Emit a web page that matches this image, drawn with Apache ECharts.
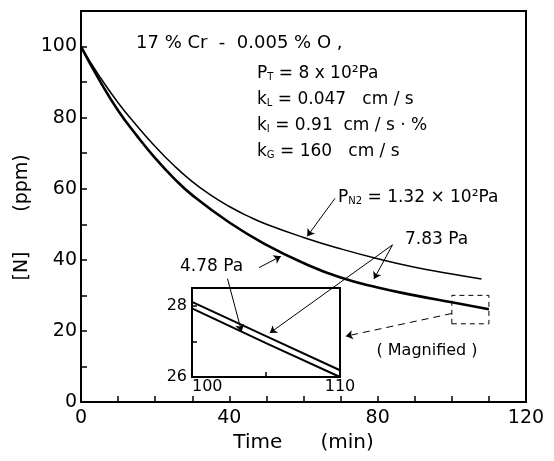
<!DOCTYPE html>
<html><head><meta charset="utf-8">
<script src="https://cdn.jsdelivr.net/npm/echarts@6/dist/echarts.min.js"></script>
<style>html,body{margin:0;padding:0;background:#fff}#c{width:554px;height:461px}</style>
</head><body><div id="c"></div>
<script>
// ---- data ----
const timeMin   = [0, 5, 10, 15, 20, 25, 30, 40, 50, 60, 70, 80, 90, 100, 110];
const nLowP     = [100, 90.5, 82, 75, 68.6, 63, 58.2, 50.5, 44.2, 39.1, 35.0, 32.2, 30.0, 28.05, 26.1]; // 7.83 Pa / 4.78 Pa
const timeHigh  = [0, 5, 10, 15, 20, 25, 30, 35, 40, 45, 50, 60, 70, 80, 90, 100, 108];
const nHighP    = [100, 91.6, 84.2, 77.8, 71.9, 66.6, 62.0, 58.2, 55.0, 52.3, 50.0, 46.3, 43.1, 40.3, 37.9, 36.0, 34.6]; // 1.32x10^2 Pa
const insetTime = [100, 105, 110];
const inset783  = [28.11, 27.15, 26.19];
const inset478  = [27.93, 26.95, 26.00];
const xMainLabels = [0, 40, 80, 120];
const yMainLabels = [0, 20, 40, 60, 80, 100];
const xInsetLabels = [100, 110];
const yInsetLabels = [26, 28];

const pairs = (xs, ys) => xs.map((x, i) => [x, ys[i]]);
const FONT = 'DejaVu Sans';
const black = '#000';

const chart = echarts.init(document.getElementById('c'), null, {renderer: 'canvas'});

const arrow = (a, b) => [
  {coord: a, symbol: 'none'},
  {coord: b, symbol: 'arrow'}
];
const subRich = {s: {fontSize: 10, fontFamily: FONT, verticalAlign: 'bottom', fill: black}};
const note = (x, y, text, size) => ({type: 'text', x: x, y: y,
  style: {text: text, fill: black, font: (size || 17) + 'px "DejaVu Sans"', verticalAlign: 'middle', rich: subRich}});

const option = {
  animation: false,
  backgroundColor: '#fff',
  grid: [
    {left: 81, top: 11, width: 445, height: 391, show: true, borderColor: black, borderWidth: 2, backgroundColor: 'transparent'},
    {left: 192, top: 288, width: 148, height: 89, show: true, borderColor: black, borderWidth: 2, backgroundColor: '#fff', z: 3}
  ],
  xAxis: [
    {gridIndex: 0, type: 'value', min: 0, max: 120, interval: 10,
     axisLine: {lineStyle: {color: black, width: 2}},
     axisTick: {inside: true, length: 6, lineStyle: {color: black, width: 1.5}},
     axisLabel: {color: black, fontSize: 19, fontFamily: FONT, margin: 7,
                 formatter: v => xMainLabels.includes(v) ? String(v) : ''},
     splitLine: {show: false},
     name: 'Time      (min)', nameLocation: 'middle', nameGap: 30,
     nameTextStyle: {color: black, fontSize: 20, fontFamily: FONT}},
    {gridIndex: 1, type: 'value', min: 100, max: 110, interval: 5,
     axisLine: {lineStyle: {color: black, width: 2}},
     axisTick: {inside: true, length: 5, lineStyle: {color: black, width: 1.5}},
     axisLabel: {color: black, fontSize: 16, fontFamily: FONT, margin: 2, alignMinLabel: 'left',
                 formatter: v => xInsetLabels.includes(v) ? String(v) : ''},
     splitLine: {show: false}, z: 4}
  ],
  yAxis: [
    {gridIndex: 0, type: 'value', min: 0, max: 110, interval: 10,
     axisLine: {lineStyle: {color: black, width: 2}},
     axisTick: {inside: true, length: 6, lineStyle: {color: black, width: 1.5}},
     axisLabel: {color: black, fontSize: 19, fontFamily: FONT, margin: 4,
                 formatter: v => yMainLabels.includes(v) ? String(v) : ''},
     splitLine: {show: false}},
    {gridIndex: 1, type: 'value', min: 26, max: 28.5, interval: 1,
     axisLine: {lineStyle: {color: black, width: 2}},
     axisTick: {inside: true, length: 5, lineStyle: {color: black, width: 1.5}},
     axisLabel: {color: black, fontSize: 16, fontFamily: FONT, margin: 5,
                 formatter: v => yInsetLabels.includes(v) ? String(v) : ''},
     splitLine: {show: false}, z: 4}
  ],
  series: [
    {type: 'line', xAxisIndex: 0, yAxisIndex: 0, data: pairs(timeHigh, nHighP), smooth: 0.5,
     showSymbol: false, lineStyle: {color: black, width: 1.5}, silent: true},
    {type: 'line', xAxisIndex: 0, yAxisIndex: 0, data: pairs(timeMin, nLowP), smooth: 0.5,
     showSymbol: false, lineStyle: {color: black, width: 2.6}, silent: true,
     markArea: {silent: true, itemStyle: {color: 'rgba(0,0,0,0)', borderColor: black, borderWidth: 1, borderType: [5, 4]},
       data: [[{coord: [100, 22]}, {coord: [110, 30]}]]},
     markLine: {silent: true, symbolSize: 7, label: {show: false},
       lineStyle: {color: black, width: 1, type: 'solid'},
       data: [
         arrow([68.5, 57.3], [61, 46.6]),
         arrow([84, 44.2], [79, 34.6]),
         arrow([84, 44.2], [50.9, 19.4]),
         arrow([48, 37.8], [53.9, 41.0]),
         arrow([39.5, 34.7], [43.3, 19.8]),
         [{coord: [100, 24.9], symbol: 'none', lineStyle: {type: [7, 5]}}, {coord: [71.4, 18.5], symbol: 'arrow', lineStyle: {type: [7, 5]}}]
       ]}},
    {type: 'line', xAxisIndex: 1, yAxisIndex: 1, data: pairs(insetTime, inset783), z: 5,
     showSymbol: false, lineStyle: {color: black, width: 2}, silent: true},
    {type: 'line', xAxisIndex: 1, yAxisIndex: 1, data: pairs(insetTime, inset478), z: 5,
     showSymbol: false, lineStyle: {color: black, width: 2}, silent: true}
  ],
  graphic: [
    {type: 'text', x: 22, y: 266, rotation: Math.PI / 2, style: {text: '[N]', fill: black, font: '19px "DejaVu Sans"', align: 'center', verticalAlign: 'middle'}},
    {type: 'text', x: 22, y: 183, rotation: Math.PI / 2, style: {text: '(ppm)', fill: black, font: '19px "DejaVu Sans"', align: 'center', verticalAlign: 'middle'}},
    note(136, 43, '17 % Cr  -  0.005 % O ,', 18),
    note(257, 74, 'P{s|T} = 8 x 10²Pa'),
    note(257, 100, 'k{s|L} = 0.047   cm / s'),
    note(257, 126, 'k{s|I} = 0.91  cm / s · %'),
    note(257, 152, 'k{s|G} = 160   cm / s'),
    note(338, 198, 'P{s|N2} = 1.32 × 10²Pa'),
    note(405, 240, '7.83 Pa'),
    note(180, 267, '4.78 Pa'),
    {type: 'text', x: 427, y: 351, style: {text: '( Magnified )', fill: black, font: '16px "DejaVu Sans"', align: 'center', verticalAlign: 'middle'}}
  ]
};
chart.setOption(option);
</script>
</body></html>
